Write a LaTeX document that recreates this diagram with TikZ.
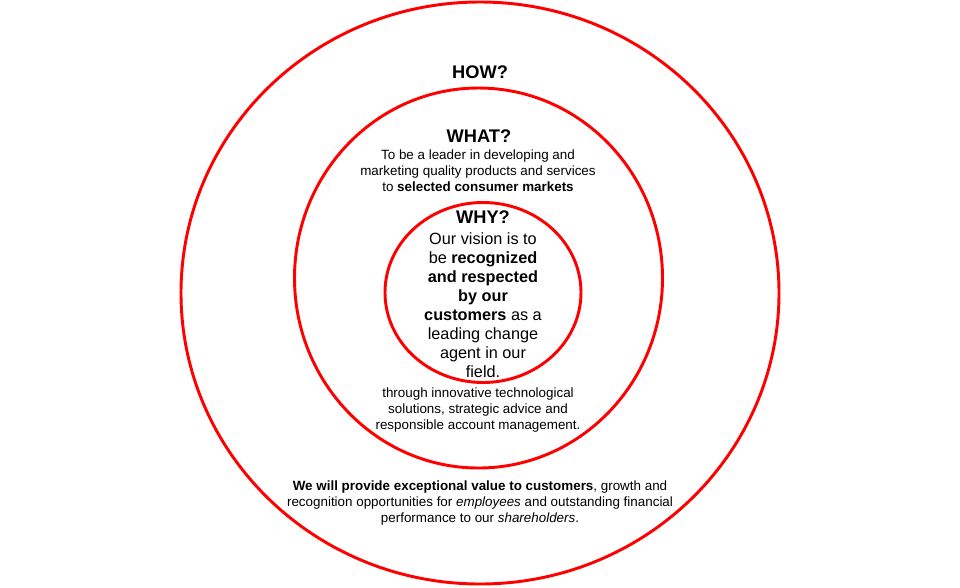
\documentclass[tikz,border=0pt]{standalone}
\usepackage{fontspec}
\setmainfont{Liberation Sans}
\usetikzlibrary{positioning}

\begin{document}
\begin{tikzpicture}[
  x=0.75pt, y=-0.75pt,
  every node/.style = {inner sep=0pt, align=center},
  ring/.style = {draw=red, line width=2.2pt},
  heading/.style = {font=\fontsize{13.7}{16}\selectfont\bfseries},
  bodytext/.style = {font=\fontsize{10.05}{12}\selectfont},
  whytext/.style = {font=\fontsize{12.2}{14.25}\selectfont}
]
  \useasboundingbox (0,0) rectangle (960,587);

  % the three rings
  \draw[ring] (480,293) ellipse [x radius=299, y radius=291];
  \draw[ring] (478.5,278) ellipse [x radius=184, y radius=190];
  \draw[ring] (483,292.5) ellipse [x radius=98, y radius=90];

  % outer ring
  \node[heading] (how) at (480,72) {HOW?};
  \node[bodytext] (howtext) at (480,503.5) {\textbf{We will provide exceptional value to customers}, growth and\\
    recognition opportunities for \emph{employees} and outstanding financial\\
    performance to our \emph{shareholders}.};

  % middle ring
  \node[heading] (what) at (479,136) {WHAT?};
  \node[bodytext] (whattext) at (478,170.5) {To be a leader in developing and\\
    marketing quality products and services\\
    to \textbf{selected consumer markets}};
  \node[bodytext] (throughtext) at (478,410.5) {through innovative technological\\
    solutions, strategic advice and\\
    responsible account management.};

  % inner ring
  \node[heading] (why) at (483,217) {WHY?};
  \node[whytext] (whybody) at (483,305) {Our vision is to\\
    be \textbf{recognized}\\
    \textbf{and respected}\\
    \textbf{by our}\\
    \textbf{customers} as a\\
    leading change\\
    agent in our\\
    field.};
\end{tikzpicture}
\end{document}
